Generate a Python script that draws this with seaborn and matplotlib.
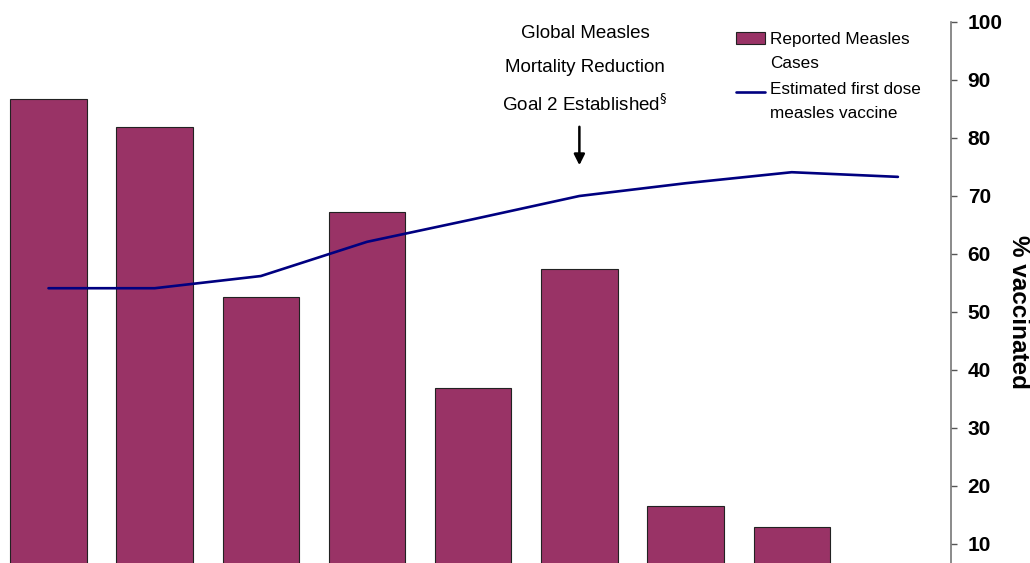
import matplotlib
matplotlib.use("Agg")
import matplotlib.pyplot as plt
from matplotlib.legend_handler import HandlerPatch, HandlerLine2D, update_from_first_child
import seaborn as sns
import pandas as pd
import numpy as np

# ---- data ----
years = [2000, 2001, 2002, 2003, 2004, 2005, 2006, 2007, 2008]
# reported measles cases, expressed on the (hidden) bar scale 0-100
cases = [86.7, 81.9, 52.6, 67.2, 36.9, 57.4, 16.6, 12.9, 5.0]
# estimated first dose measles vaccine coverage (%)
coverage = [54.1, 54.1, 56.2, 62.1, 66.0, 70.0, 72.2, 74.1, 73.3]
yticks = [10, 20, 30, 40, 50, 60, 70, 80, 90, 100]

df = pd.DataFrame({"year": [str(y) for y in years], "idx": np.arange(len(years)),
                   "cases": cases, "coverage": coverage})

sns.set_theme(style="white")
plt.rcParams['font.family'] = ['Liberation Sans', 'DejaVu Sans']
plt.rcParams['text.color'] = 'black'
plt.rcParams['axes.labelcolor'] = 'black'
plt.rcParams['ytick.color'] = 'black'

W, H = 1030, 563
fig = plt.figure(figsize=(W / 100, H / 100), dpi=100)

# axes rectangle in pixels: x from -4.6 to 951, y from 22 (value 100) to 602 (value 0)
left_px, right_px, top_px, bot_px = -4.6, 951, 22, 602
ax = fig.add_axes([left_px / W, 1 - bot_px / H, (right_px - left_px) / W, (bot_px - top_px) / H])

bar_color = "#993366"
sns.barplot(data=df, x="year", y="cases", ax=ax, color=bar_color, width=0.72,
            edgecolor="#222222", linewidth=0.8, saturation=1, label="Reported Measles\nCases")
if ax.get_legend() is not None:
    ax.get_legend().remove()
ax.set_ylim(0, 100)
ax.set_xlim(-0.5, len(years) - 0.5)
ax.set_xlabel("")
ax.set_ylabel("")
ax.set_yticks([])
ax.set_xticks([])
for s in ax.spines.values():
    s.set_visible(False)

ax2 = ax.twinx()
sns.lineplot(data=df, x="idx", y="coverage", ax=ax2, color="#000080", linewidth=1.9,
             label="Estimated first dose\nmeasles vaccine", legend=False)
ax2.set_ylim(0, 100)
ax2.set_xlim(-0.5, len(years) - 0.5)
ax2.set_xlabel("")
ax2.set_yticks(yticks)
ax2.set_yticklabels([str(t) for t in yticks], fontsize=15, fontweight="bold")
ax2.tick_params(axis="y", direction="out", length=4, width=1, color="#555555", pad=8,
                right=True, labelcolor="black")
for k in ["top", "left", "bottom"]:
    ax2.spines[k].set_visible(False)
ax2.spines["right"].set_color("#777777")
ax2.spines["right"].set_linewidth(1.2)
ax2.set_ylabel("% vaccinated", rotation=270, fontsize=17.5, fontweight="bold", labelpad=20,
               color="black")

# legend handles aligned with the first line of each two-line label


class TopPatch(HandlerPatch):
    def create_artists(self, legend, orig_handle, xdescent, ydescent, width, height, fontsize, trans):
        return super().create_artists(legend, orig_handle, xdescent, ydescent - 9.5,
                                      width, height, fontsize, trans)


class TopLine(HandlerLine2D):
    def create_artists(self, legend, orig_handle, xdescent, ydescent, width, height, fontsize, trans):
        return super().create_artists(legend, orig_handle, xdescent, ydescent - 14.0,
                                      width, height, fontsize, trans)


h1, l1 = ax.get_legend_handles_labels()
h2, l2 = ax2.get_legend_handles_labels()
handler_map = {h1[0]: TopPatch(update_func=update_from_first_child), h2[0]: TopLine()}
leg = fig.legend(h1 + h2, l1 + l2, loc="upper left", bbox_to_anchor=(729 / W, 1 - 25 / H),
                 frameon=False, fontsize=12.3, handlelength=1.7, handletextpad=0.3,
                 labelspacing=0.6, borderaxespad=0, handler_map=handler_map)
for t in leg.get_texts():
    t.set_color("black")
    t.set_linespacing(1.8)

# annotation
ann_x = 5
ax2.annotate("", xy=(ann_x, 100 - (168 - 22) / 5.8), xytext=(ann_x, 100 - (124 - 22) / 5.8),
             arrowprops=dict(arrowstyle="-|>", color="black", lw=1.8, mutation_scale=16))
fig.text(585 / W, 1 - 33 / H, "Global Measles", ha="center", va="center", fontsize=13.5)
fig.text(585 / W, 1 - 67 / H, "Mortality Reduction", ha="center", va="center", fontsize=13.5)
fig.text(585 / W, 1 - 104 / H, "Goal 2 Established$^{\\S}$", ha="center", va="center", fontsize=13.5)

fig.savefig("out.png", dpi=100)
